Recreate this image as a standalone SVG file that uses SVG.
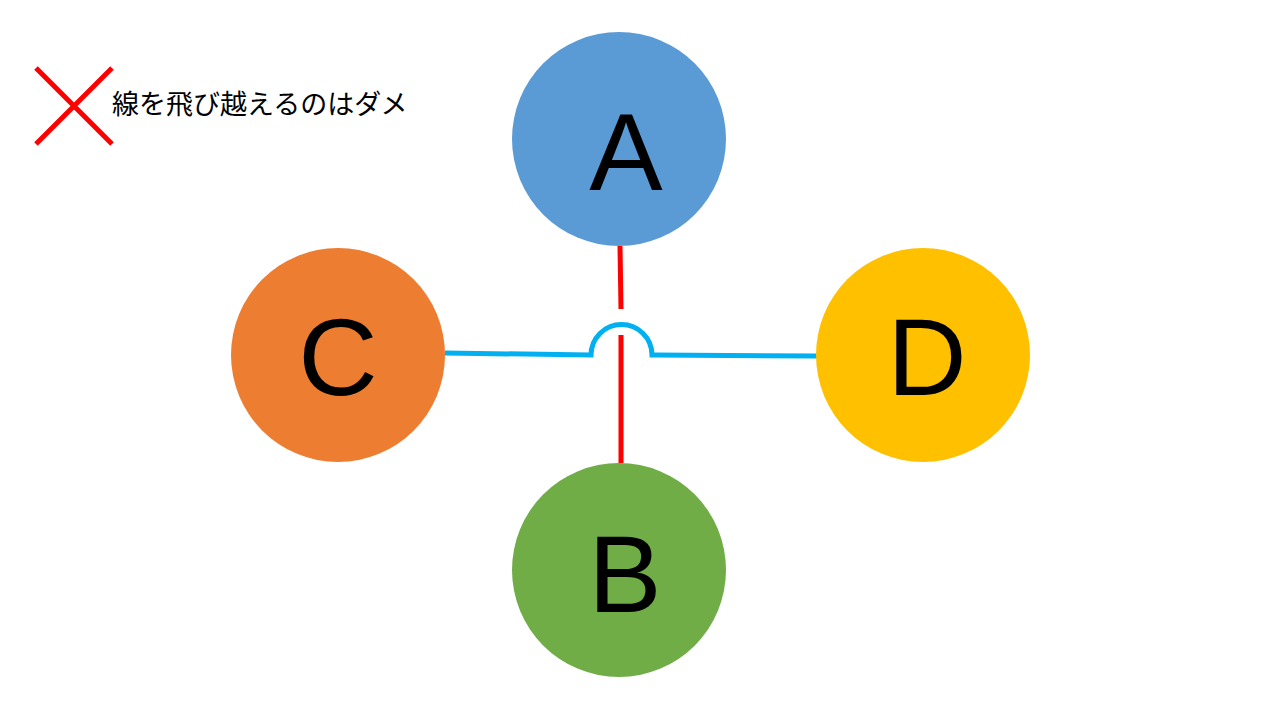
<svg xmlns="http://www.w3.org/2000/svg" width="1280" height="720" viewBox="0 0 1280 720">
<style>
.lbl{font-family:"Liberation Sans",Arial,sans-serif;font-size:110px;fill:#000;text-anchor:middle}
.red{stroke:#ff0000;stroke-width:5;fill:none}
.blue{stroke:#00b0f0;stroke-width:5;fill:none}
</style>
<rect width="1280" height="720" fill="#fff"/>
<g id="note">
<path class="red" d="M36 68L112 144M112 68L36 144"/>
<text x="112" y="114" font-family="'Noto Sans CJK JP',sans-serif" font-size="27" fill="#000">線を飛び越えるのはダメ</text>
</g>
<g id="connectors">
<path class="red" d="M620 246L621 309M621 335L621 463"/>
<path class="blue" d="M445 353L591 355L591 355A30 30 0 0 1 652 355L655 355L817 356"/>
</g>
<g id="A"><circle cx="619" cy="139" r="107" fill="#5b9bd5"/><text class="lbl" x="626" y="190">A</text></g>
<g id="C"><circle cx="338" cy="355" r="107" fill="#ed7d31"/><text class="lbl" x="338" y="395">C</text></g>
<g id="D"><circle cx="923" cy="355" r="107" fill="#ffc000"/><text class="lbl" x="927" y="395">D</text></g>
<g id="B"><circle cx="619" cy="570" r="107" fill="#70ad47"/><text class="lbl" x="625" y="612">B</text></g>
</svg>
